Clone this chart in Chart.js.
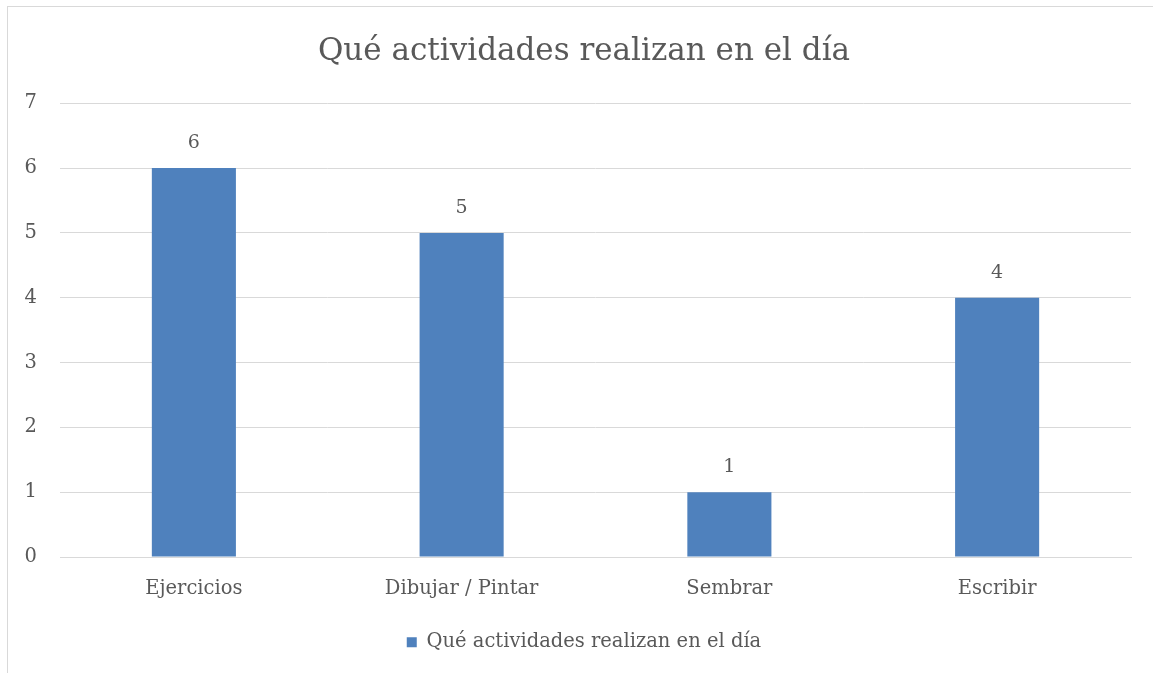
<!DOCTYPE html>
<html>
<head>
<meta charset="utf-8">
<script src="https://cdn.jsdelivr.net/npm/chart.js@4.4.1/dist/chart.umd.min.js"></script>
<style>
  html, body { margin: 0; padding: 0; background: #fff; overflow: hidden; }
  .frame {
    position: absolute; left: 7px; top: 6px;
    width: 1154px; height: 700px;
    border: 1px solid #d9d9d9;
    box-sizing: border-box;
  }
  .frame canvas { display: block; }
</style>
</head>
<body>
<div class="frame">
  <div style="position:relative;width:1152px;height:666px;">
    <canvas id="chart"></canvas>
  </div>
</div>
<script>
const TITLE = 'Qué actividades realizan en el día';
const categories = ['Ejercicios', 'Dibujar / Pintar', 'Sembrar', 'Escribir'];
const seriesName = 'Qué actividades realizan en el día';
const values = [6, 5, 1, 4];
const yTicks = [0, 1, 2, 3, 4, 5, 6, 7];

const FONT = '"DejaVu Serif", serif';
const TEXT = '#595959';
const GRID = '#d9d9d9';
const BAR = '#4f81bd';

// draws the value above each bar (no datalabels plugin offline)
const valueLabels = {
  id: 'valueLabels',
  afterDatasetsDraw(chart) {
    const ctx = chart.ctx;
    ctx.save();
    ctx.font = '19px ' + FONT;
    ctx.fillStyle = TEXT;
    ctx.textAlign = 'center';
    ctx.textBaseline = 'middle';
    chart.getDatasetMeta(0).data.forEach((bar, i) => {
      ctx.fillText(String(values[i]), bar.x, bar.y - 25);
    });
    ctx.restore();
  }
};

new Chart(document.getElementById('chart'), {
  type: 'bar',
  data: {
    labels: categories,
    datasets: [{
      label: seriesName,
      data: values,
      backgroundColor: BAR,
      borderWidth: 0,
      categoryPercentage: 1,
      barPercentage: 0.314
    }]
  },
  options: {
    responsive: true,
    maintainAspectRatio: false,
    animation: false,
    layout: { padding: { top: 26, right: 0, bottom: 11, left: 0 } },
    plugins: {
      title: {
        display: true,
        text: TITLE,
        color: TEXT,
        font: { family: FONT, size: 31, weight: 'normal' },
        padding: { top: 0, bottom: 33 }
      },
      legend: {
        position: 'bottom',
        labels: {
          color: TEXT,
          font: { family: FONT, size: 19.5 },
          boxWidth: 10,
          boxHeight: 10,
          padding: 20
        }
      },
      tooltip: { enabled: false }
    },
    scales: {
      x: {
        grid: { display: false },
        border: { color: GRID },
        ticks: { color: TEXT, font: { family: FONT, size: 19.5 }, padding: 12 }
      },
      y: {
        min: 0,
        max: 7,
        afterBuildTicks: scale => { scale.ticks = yTicks.map(v => ({ value: v })); },
        afterFit: scale => { scale.width = 52; },
        grid: { color: GRID, lineWidth: 1, drawTicks: false },
        border: { display: false },
        ticks: { color: TEXT, font: { family: FONT, size: 19.5 }, padding: 23 }
      },
      // empty right margin so title and legend stay centred on the frame
      pad: {
        position: 'right',
        min: 0,
        max: 7,
        afterFit: scale => { scale.width = 29; },
        grid: { display: false },
        border: { display: false },
        ticks: { display: false }
      }
    }
  },
  plugins: [valueLabels]
});
</script>
</body>
</html>
